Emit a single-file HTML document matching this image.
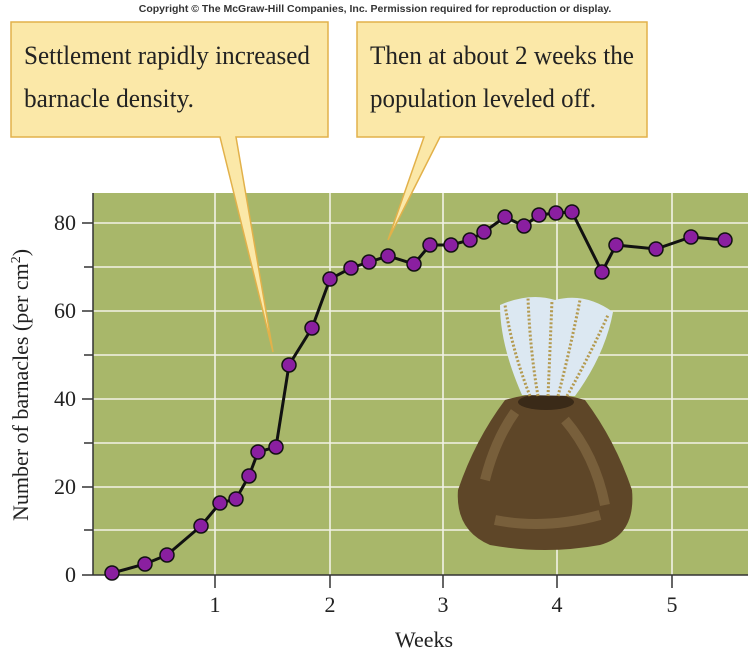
<!DOCTYPE html>
<html><head><style>
body{margin:0;background:#fff;}
svg{display:block;}
</style></head><body>
<svg width="751" height="657" viewBox="0 0 751 657" font-family="'Liberation Serif', serif">
<text x="375" y="12" font-family="'Liberation Sans', sans-serif" font-weight="bold" font-size="10.5" text-anchor="middle" fill="#333">Copyright © The McGraw-Hill Companies, Inc. Permission required for reproduction or display.</text>
<rect x="93" y="193" width="655" height="382" fill="#a8b76a"/>
<g stroke="#f2f2e6" stroke-width="1.6">
<line x1="93" y1="530" x2="748" y2="530"/><line x1="93" y1="487" x2="748" y2="487"/>
<line x1="93" y1="443" x2="748" y2="443"/><line x1="93" y1="399" x2="748" y2="399"/>
<line x1="93" y1="355" x2="748" y2="355"/><line x1="93" y1="311" x2="748" y2="311"/>
<line x1="93" y1="267" x2="748" y2="267"/><line x1="93" y1="223" x2="748" y2="223"/>
<line x1="215" y1="193" x2="215" y2="575"/><line x1="330" y1="193" x2="330" y2="575"/>
<line x1="443" y1="193" x2="443" y2="575"/><line x1="557" y1="193" x2="557" y2="575"/>
<line x1="672" y1="193" x2="672" y2="575"/>
</g>
<g stroke="#333" stroke-width="1.5">
<line x1="93" y1="193" x2="93" y2="575"/><line x1="82" y1="575" x2="748" y2="575"/>
<line x1="82" y1="487" x2="93" y2="487"/><line x1="82" y1="399" x2="93" y2="399"/>
<line x1="82" y1="311" x2="93" y2="311"/><line x1="82" y1="223" x2="93" y2="223"/>
<line x1="84" y1="530" x2="93" y2="530"/><line x1="84" y1="443" x2="93" y2="443"/>
<line x1="84" y1="355" x2="93" y2="355"/><line x1="84" y1="267" x2="93" y2="267"/>
<line x1="215" y1="575" x2="215" y2="588"/><line x1="330" y1="575" x2="330" y2="588"/>
<line x1="443" y1="575" x2="443" y2="588"/><line x1="557" y1="575" x2="557" y2="588"/>
<line x1="672" y1="575" x2="672" y2="588"/>
</g>
<g font-size="22" fill="#222" text-anchor="end">
<text x="76" y="582">0</text><text x="76" y="494">20</text><text x="76" y="406">40</text>
<text x="76" y="318">60</text><text x="76" y="230">80</text>
</g>
<g font-size="22" fill="#222" text-anchor="middle">
<text x="215" y="612">1</text><text x="330" y="612">2</text><text x="443" y="612">3</text>
<text x="557" y="612">4</text><text x="672" y="612">5</text>
<text x="424" y="647">Weeks</text>
</g>
<text transform="translate(28,385) rotate(-90)" font-size="22" fill="#222" text-anchor="middle">Number of barnacles (per cm<tspan font-size="14" dy="-8">2</tspan><tspan dy="8">)</tspan></text>
<!-- barnacle -->
<g>
<path d="M458 490 Q475 440 505 400 Q545 388 585 400 Q615 440 632 490 Q636 535 600 545 Q545 555 490 545 Q455 530 458 490Z" fill="#5e4628"/>
<path d="M485 480 Q495 440 515 412 M565 420 Q595 455 605 505 M495 520 Q545 530 600 515" stroke="#8a7048" stroke-width="10" fill="none" opacity=".6"/>
<ellipse cx="546" cy="402" rx="28" ry="8" fill="#3a2a18"/>
<path d="M522 395 Q500 345 500 305 Q530 292 555 300 Q585 292 613 312 Q605 355 575 396Z" fill="#dce8f2"/>
<g stroke="#b49a50" stroke-width="3" stroke-dasharray="2 2" fill="none">
<path d="M530 396 Q512 350 505 305"/><path d="M538 396 Q530 350 528 298"/>
<path d="M548 396 Q550 350 552 300"/><path d="M558 396 Q570 350 580 300"/>
<path d="M567 396 Q590 355 608 315"/>
</g>
</g>
<polyline fill="none" stroke="#111" stroke-width="3" points="112,573 145,564 167,555 201,526 220,503 236,499 249,476 258,452 276,447 289,365 312,328 330,279 351,268 369,262 388,256 414,264 430,245 451,245 470,240 484,232 505,217 524,226 539,215 556,213 572,212 602,272 616,245 656,249 691,237 725,240"/>
<g fill="#8a1fa0" stroke="#111" stroke-width="1.5">
<circle cx="112" cy="573" r="7"/><circle cx="145" cy="564" r="7"/><circle cx="167" cy="555" r="7"/><circle cx="201" cy="526" r="7"/><circle cx="220" cy="503" r="7"/><circle cx="236" cy="499" r="7"/><circle cx="249" cy="476" r="7"/><circle cx="258" cy="452" r="7"/><circle cx="276" cy="447" r="7"/><circle cx="289" cy="365" r="7"/><circle cx="312" cy="328" r="7"/><circle cx="330" cy="279" r="7"/><circle cx="351" cy="268" r="7"/><circle cx="369" cy="262" r="7"/><circle cx="388" cy="256" r="7"/><circle cx="414" cy="264" r="7"/><circle cx="430" cy="245" r="7"/><circle cx="451" cy="245" r="7"/><circle cx="470" cy="240" r="7"/><circle cx="484" cy="232" r="7"/><circle cx="505" cy="217" r="7"/><circle cx="524" cy="226" r="7"/><circle cx="539" cy="215" r="7"/><circle cx="556" cy="213" r="7"/><circle cx="572" cy="212" r="7"/><circle cx="602" cy="272" r="7"/><circle cx="616" cy="245" r="7"/><circle cx="656" cy="249" r="7"/><circle cx="691" cy="237" r="7"/><circle cx="725" cy="240" r="7"/>
</g>
<!-- callouts -->
<g fill="#fbe8a8" stroke="#e2b14a" stroke-width="1.5">
<path d="M11 22 H328 V137 H236 L273 352 L220 137 H11Z"/>
<path d="M357 22 H647 V137 H440 L388 240 L424 137 H357Z"/>
</g>
<g font-family="'Liberation Serif', serif" font-size="26" fill="#222">
<text x="24" y="64" textLength="286" lengthAdjust="spacingAndGlyphs">Settlement rapidly increased</text>
<text x="24" y="107" textLength="170" lengthAdjust="spacingAndGlyphs">barnacle density.</text>
<text x="370" y="64" textLength="264" lengthAdjust="spacingAndGlyphs">Then at about 2 weeks the</text>
<text x="370" y="107" textLength="226" lengthAdjust="spacingAndGlyphs">population leveled off.</text>
</g>
</svg>
</body></html>
